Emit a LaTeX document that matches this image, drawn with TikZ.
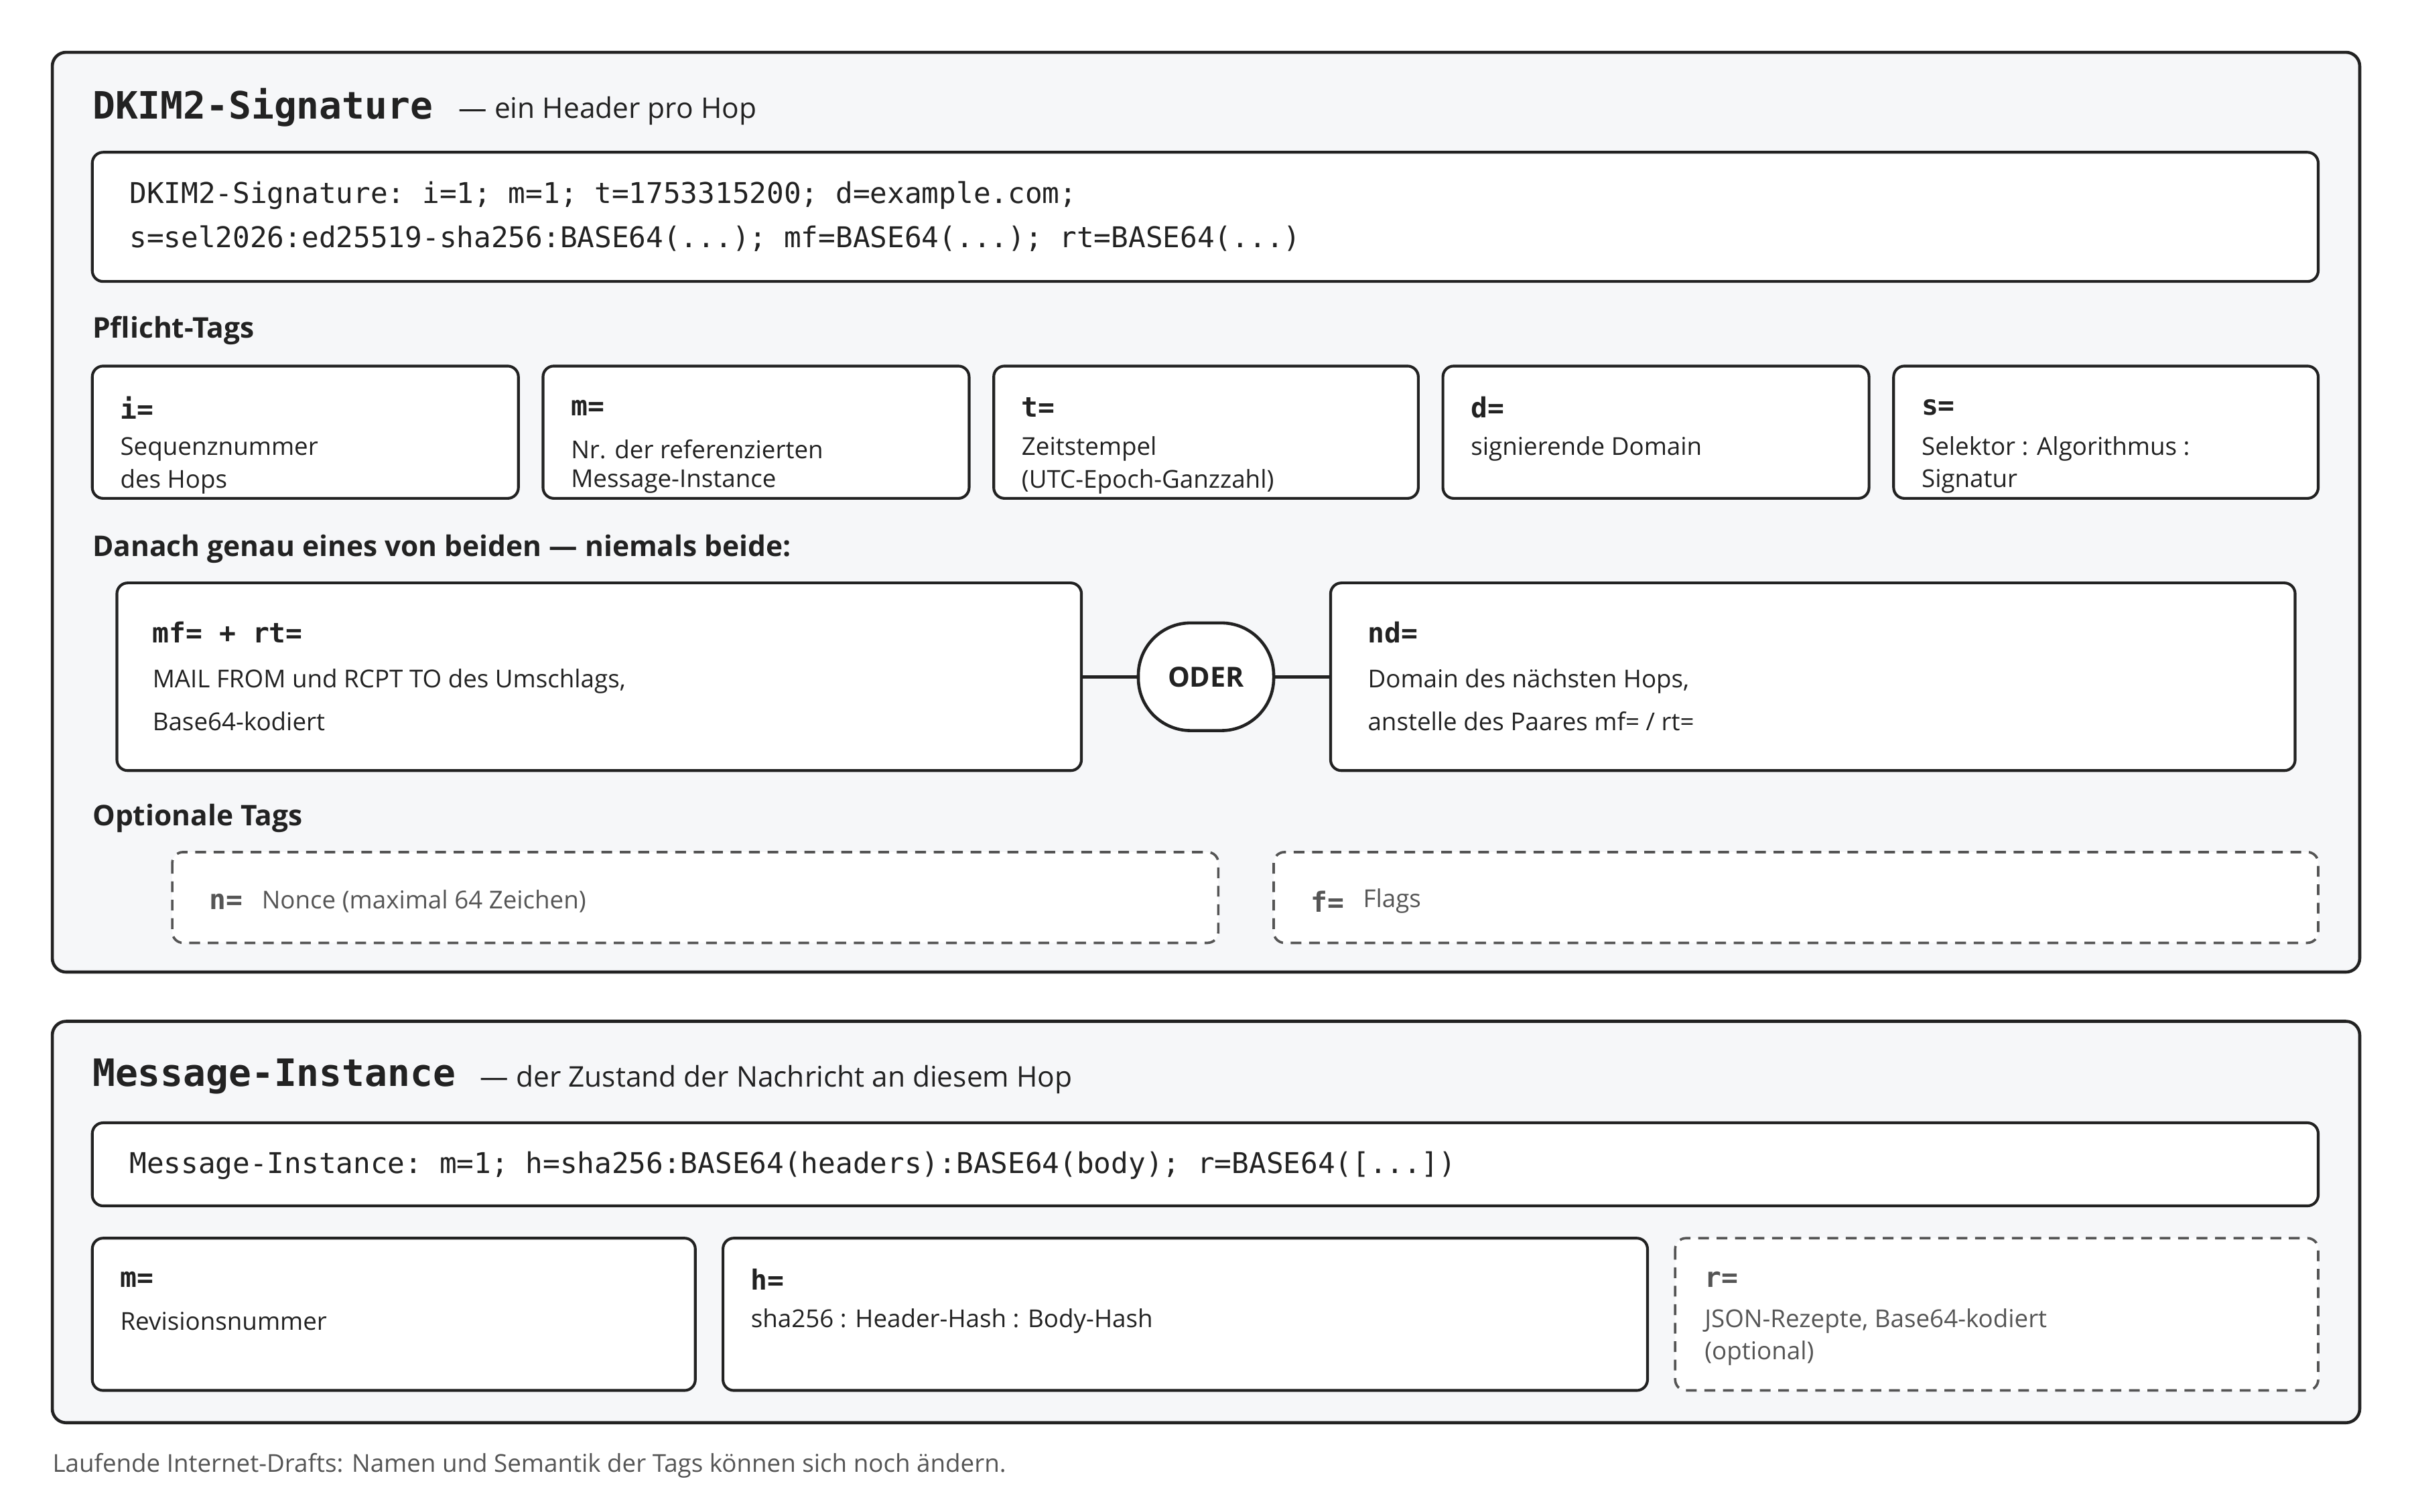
\documentclass[tikz,border=0pt]{standalone}
\usepackage{fontspec}
\setmainfont{Open Sans}
\setmonofont{DejaVu Sans Mono}
\begin{document}
\definecolor{ink}{HTML}{222222}
\definecolor{panel}{HTML}{F6F7F9}
\definecolor{gr}{HTML}{555555}
\begin{tikzpicture}[x=1pt,y=-1pt,
 outer/.style={draw=ink,line width=2pt,fill=panel,rounded corners=9pt},
 box/.style={draw=ink,line width=1.8pt,fill=white,rounded corners=7pt},
 dbox/.style={draw=gr,line width=1.6pt,dash pattern=on 7pt off 5pt,fill=white,rounded corners=7pt},
 t/.style={anchor=west,inner sep=0pt,font=\fontsize{16}{18}\selectfont,text=ink},
 tg/.style={t,text=gr},
 mono/.style={anchor=west,inner sep=0pt,font=\fontsize{18.6}{20}\ttfamily,text=ink},
 lab/.style={anchor=west,inner sep=0pt,font=\fontsize{18}{20}\ttfamily\bfseries,text=ink},
 ttl/.style={anchor=west,inner sep=0pt,font=\fontsize{24.5}{26}\ttfamily\bfseries,text=ink},
 sub/.style={anchor=west,inner sep=0pt,font=\fontsize{18.5}{20}\selectfont,text=ink},
 hd/.style={anchor=west,inner sep=0pt,font=\fontsize{18.5}{20}\selectfont\bfseries,text=ink}]
\useasboundingbox[fill=white] (0,0) rectangle (1568,983);
% panel 1
\draw[outer] (34,34) rectangle (1534,632);
\node[ttl] (t1) at (60,70) {DKIM2-Signature};
\node[sub] (s1) at (298,72) {— ein Header pro Hop};
\draw[box] (60,99) rectangle (1507,183);
\node[mono] (c1) at (84,127) {DKIM2-Signature: i=1; m=1; t=1753315200; d=example.com;};
\node[mono] (c2) at (84,155) {s=sel2026:ed25519-sha256:BASE64(...); mf=BASE64(...); rt=BASE64(...)};
\node[hd] (h1) at (60,215) {Pflicht-Tags};
\foreach \xa/\xb/\l/\a/\b [count=\i] in {60/337/i=/Sequenznummer/des Hops,353/630/m=/Nr. der referenzierten/Message-Instance,646/922/t=/Zeitstempel/(UTC-Epoch-Ganzzahl),938/1215/d=/signierende Domain/,1231/1507/s=/Selektor : Algorithmus :/Signatur}{
 \draw[box] (\xa,238) rectangle (\xb,324);
 \node[lab] (pl\i) at (\xa+18,265) {\l};
 \node[t] (pa\i) at (\xa+18,292) {\a};
 \node[t] (pb\i) at (\xa+18,313) {\b};
}
\node[hd] (h2) at (60,357) {Danach genau eines von beiden — niemals beide:};
\draw[box] (76,379) rectangle (703,501) coordinate (mfbr);
\coordinate (mfr) at (703,440);
\node[lab] (mfl) at (99,411) {mf= + rt=};
\node[t] (mf1) at (99,443) {MAIL FROM und RCPT TO des Umschlags,};
\node[t] (mf2) at (99,469) {Base64-kodiert};
\draw[box] (865,379) rectangle (1492,501);
\coordinate (ndl) at (865,440);
\node[lab] (ndlab) at (889,411) {nd=};
\node[t] (nd1) at (889,443) {Domain des nächsten Hops,};
\node[t] (nd2) at (889,469) {anstelle des Paares mf= / rt=};
\node[draw=ink,line width=2pt,fill=white,rounded corners=34pt,minimum width=88pt,minimum height=70pt,font=\fontsize{18}{20}\selectfont\bfseries,text=ink] (oder) at (784,440) {ODER};
\draw[ink,line width=2pt] (mfr) -- (oder) -- (ndl);
\node[hd] (h3) at (60,532) {Optionale Tags};
\draw[dbox] (112,554) rectangle (792,613);
\node[lab,text=gr] (nl) at (136,586) {n=};
\node[tg] (nt) at (170,586) {Nonce (maximal 64 Zeichen)};
\draw[dbox] (828,554) rectangle (1507,613);
\node[lab,text=gr] (fl) at (852,586) {f=};
\node[tg] (ft) at (886,586) {Flags};
% panel 2
\draw[outer] (34,664) rectangle (1534,925);
\node[ttl] (t2) at (60,700) {Message-Instance};
\node[sub] (s2) at (312,702) {— der Zustand der Nachricht an diesem Hop};
\draw[box] (60,730) rectangle (1507,784);
\node[mono] (c3) at (84,758) {Message-Instance: m=1; h=sha256:BASE64(headers):BASE64(body); r=BASE64([...])};
\draw[box] (60,805) rectangle (452,904);
\node[lab] (ml) at (78,832) {m=};
\node[t] (mt) at (78,859) {Revisionsnummer};
\draw[box] (470,805) rectangle (1071,904);
\node[lab] (hl) at (488,832) {h=};
\node[t] (ht) at (488,859) {sha256 : Header-Hash : Body-Hash};
\draw[dbox] (1089,805) rectangle (1507,904);
\node[lab,text=gr] (rl) at (1108,832) {r=};
\node[tg] (rt1) at (1108,859) {JSON-Rezepte, Base64-kodiert};
\node[tg] (rt2) at (1108,880) {(optional)};
\node[tg] (foot) at (34,953) {Laufende Internet-Drafts: Namen und Semantik der Tags können sich noch ändern.};
\end{tikzpicture}
\end{document}
